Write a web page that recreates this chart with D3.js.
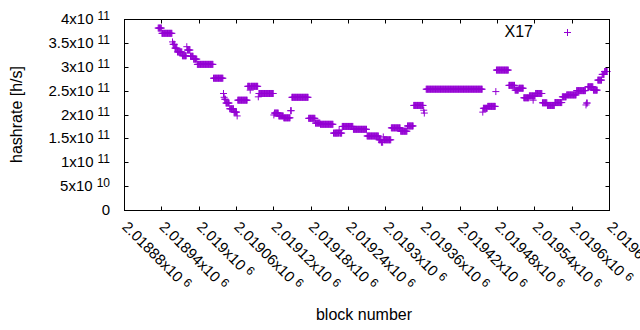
<!DOCTYPE html>
<html>
<head>
<meta charset="utf-8">
<script src="https://cdn.jsdelivr.net/npm/d3@7"></script>
<style>
  body { margin: 0; background: #fff; }
  text { font-family: "Liberation Sans", Arial, sans-serif; fill: #000; }
</style>
</head>
<body>
<div id="chart"></div>
<script>
// hashrate estimate per block, stored as runs of consecutive blocks sharing a value
const runFirst = [
  2018935, 2018941, 2018958, 2018959, 2018962, 2018966, 2018974, 2018981, 2018982, 2018987,
  2018992, 2018998, 2019024, 2019040, 2019041, 2019042, 2019044, 2019050, 2019057, 2019062,
  2019063, 2019079, 2019083, 2019084, 2019096, 2019097, 2019121, 2019122, 2019129, 2019137,
  2019148, 2019150, 2019177, 2019188, 2019196, 2019217, 2019226, 2019227, 2019231, 2019249,
  2019271, 2019290, 2019294, 2019297, 2019298, 2019310, 2019325, 2019336, 2019346, 2019362,
  2019363, 2019366, 2019457, 2019458, 2019465, 2019478, 2019479, 2019499, 2019509, 2019515,
  2019523, 2019532, 2019538, 2019542, 2019553, 2019561, 2019573, 2019585, 2019592, 2019608,
  2019623, 2019624, 2019626, 2019635, 2019642, 2019649, 2019653
];
const runLast = [
  2018940, 2018957, 2018958, 2018961, 2018965, 2018973, 2018980, 2018981, 2018986, 2018991,
  2018997, 2019023, 2019039, 2019040, 2019041, 2019043, 2019049, 2019056, 2019061, 2019062,
  2019078, 2019082, 2019083, 2019095, 2019096, 2019120, 2019121, 2019128, 2019136, 2019147,
  2019149, 2019176, 2019187, 2019195, 2019216, 2019225, 2019226, 2019230, 2019248, 2019270,
  2019289, 2019293, 2019296, 2019297, 2019309, 2019324, 2019335, 2019345, 2019361, 2019362,
  2019363, 2019456, 2019457, 2019464, 2019477, 2019478, 2019498, 2019508, 2019514, 2019522,
  2019531, 2019541, 2019538, 2019552, 2019560, 2019572, 2019584, 2019591, 2019607, 2019622,
  2019623, 2019625, 2019634, 2019641, 2019648, 2019652, 2019657
];
const runHash = [
  3.81e11, 3.70e11, 3.52e11, 3.47e11, 3.39e11, 3.31e11, 3.23e11, 3.42e11, 3.35e11, 3.22e11,
  3.16e11, 3.05e11, 2.76e11, 2.44e11, 2.36e11, 2.32e11, 2.24e11, 2.12e11, 2.05e11, 1.97e11,
  2.30e11, 2.59e11, 2.51e11, 2.59e11, 2.37e11, 2.44e11, 1.99e11, 2.03e11, 1.97e11, 1.93e11,
  2.08e11, 2.36e11, 1.92e11, 1.82e11, 1.795e11, 1.61e11, 1.67e11, 1.61e11, 1.75e11, 1.69e11,
  1.55e11, 1.47e11, 1.42e11, 1.53e11, 1.47e11, 1.72e11, 1.65e11, 1.76e11, 2.19e11, 2.09e11,
  2.03e11, 2.53e11, 2.05e11, 2.13e11, 2.17e11, 2.48e11, 2.93e11, 2.61e11, 2.51e11, 2.55e11,
  2.35e11, 2.39e11, 2.30e11, 2.44e11, 2.245e11, 2.19e11, 2.25e11, 2.37e11, 2.41e11, 2.50e11,
  2.20e11, 2.24e11, 2.58e11, 2.51e11, 2.72e11, 2.84e11, 2.90e11
];

const xTicks = [2018880, 2018940, 2019000, 2019060, 2019120, 2019180, 2019240,
  2019300, 2019360, 2019420, 2019480, 2019540, 2019600, 2019660];
const yTicks = [0, 5e10, 1e11, 1.5e11, 2e11, 2.5e11, 3e11, 3.5e11, 4e11];
const seriesName = "X17";

const width = 640;
const height = 330;
const margin = { left: 124, right: 31, top: 19, bottom: 120 };
const color = "#9400d3";

const points = [];
runFirst.forEach((first, i) => {
  d3.range(first, runLast[i] + 1).forEach((b) => points.push({ block: b, hash: runHash[i] }));
});

const xScale = d3.scaleLinear()
  .domain([xTicks[0], xTicks[xTicks.length - 1]])
  .range([margin.left, width - margin.right]);
const yScale = d3.scaleLinear()
  .domain([0, 4e11])
  .range([height - margin.bottom, margin.top]);

const svg = d3.select("#chart").append("svg")
  .attr("width", width)
  .attr("height", height);

const x0 = margin.left + 0.5, x1 = width - margin.right + 0.5;
const y0 = height - margin.bottom + 0.5, y1 = margin.top + 0.5;

// points
const plus = (d) => {
  const x = xScale(d.block), y = yScale(d.hash);
  return `M${x - 3.5},${y}H${x + 3.5}M${x},${y - 3.5}V${y + 3.5}`;
};
svg.append("path")
  .attr("d", points.map(plus).join(""))
  .attr("stroke", color)
  .attr("stroke-width", 1)
  .attr("fill", "none");

// border with mirrored inward ticks
const frame = svg.append("g").attr("stroke", "#000").attr("stroke-width", 1).attr("fill", "none");
frame.append("rect").attr("x", x0).attr("y", y1).attr("width", x1 - x0).attr("height", y0 - y1);
const tickLen = 4;
yTicks.forEach((v) => {
  const y = Math.round(yScale(v)) + 0.5;
  frame.append("path").attr("d", `M${x0},${y}h${tickLen}M${x1},${y}h${-tickLen}`);
});
xTicks.forEach((v) => {
  const x = Math.round(xScale(v)) + 0.5;
  frame.append("path").attr("d", `M${x},${y0}v${-tickLen}M${x},${y1}v${tickLen}`);
});

// y tick labels
const fmt = d3.format(".6~g");
yTicks.forEach((v) => {
  const t = svg.append("text")
    .attr("x", 110)
    .attr("y", yScale(v) + 5)
    .attr("text-anchor", "end")
    .style("font-size", "15px");
  if (v === 0) { t.text("0"); return; }
  const e = Math.floor(Math.log10(v));
  t.append("tspan").text(fmt(v / Math.pow(10, e)) + "x10");
  t.append("tspan").attr("dx", 4).attr("dy", -4).style("font-size", "12px").text(e);
});

// x tick labels, rotated
xTicks.forEach((v) => {
  const e = 6;
  const t = svg.append("text")
    .attr("transform", `translate(${xScale(v) + 1},${224}) rotate(45)`)
    .attr("dy", "0.35em")
    .attr("text-anchor", "start")
    .style("font-size", "15px");
  t.append("tspan").text(fmt(v / 1e6) + "x10");
  t.append("tspan").attr("dx", 4).attr("dy", -4).style("font-size", "12px").text(e);
});

// axis titles
svg.append("text")
  .attr("transform", `translate(22,${(margin.top + height - margin.bottom) / 2}) rotate(-90)`)
  .attr("text-anchor", "middle")
  .style("font-size", "16px")
  .text("hashrate [h/s]");
svg.append("text")
  .attr("x", 364)
  .attr("y", 320)
  .attr("text-anchor", "middle")
  .style("font-size", "16px")
  .text("block number");

// legend
svg.append("text")
  .attr("x", 533)
  .attr("y", 37)
  .attr("text-anchor", "end")
  .style("font-size", "16px")
  .text(seriesName);
svg.append("path")
  .attr("d", plus({ block: xScale.invert(567.5), hash: yScale.invert(32.5) }))
  .attr("stroke", color)
  .attr("fill", "none");
</script>
</body>
</html>
